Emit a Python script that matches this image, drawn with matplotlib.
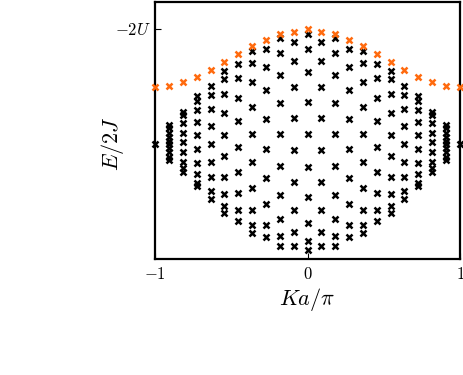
import matplotlib
matplotlib.use("Agg")
import matplotlib.pyplot as plt

plt.rcParams['mathtext.fontset'] = 'cm'
plt.rcParams['font.family'] = ['DejaVu Serif']

# total momentum Ka/pi for each column (n/11, n = -11..11)
k_values = [-1.0, -0.909, -0.818, -0.727, -0.636, -0.545, -0.455, -0.364, -0.273, -0.182, -0.091,
            0.0,
            0.091, 0.182, 0.273, 0.364, 0.455, 0.545, 0.636, 0.727, 0.818, 0.909, 1.0]

# bound state (orange), in units of |U|
bound_e = [0.98, 1.009, 1.073, 1.161, 1.283, 1.417, 1.562, 1.702, 1.812, 1.920, 1.949,
           1.993,
           1.949, 1.920, 1.812, 1.702, 1.562, 1.417, 1.283, 1.161, 1.073, 1.009, 0.98]

# scattering states (black) per |n|
e_n0 = [1.904, 1.644, 1.243, 0.730, 0.162, -0.414, -0.937, -1.380, -1.698, -1.859]
e_n1 = [1.777, 1.443, 0.986, 0.450, -0.120, -0.668, -1.154, -1.545, -1.782]
e_n2 = [1.836, 1.585, 1.195, 0.712, 0.166, -0.393, -0.899, -1.326, -1.623, -1.785]
e_n3 = [1.644, 1.340, 0.934, 0.436, -0.096, -0.607, -1.056, -1.417, -1.640]
e_n4 = [1.620, 1.410, 1.073, 0.637, 0.161, -0.323, -0.777, -1.161, -1.414, -1.567]
e_n5 = [1.387, 1.143, 0.794, 0.387, -0.061, -0.492, -0.869, -1.169, -1.353]
e_n6 = [1.274, 1.126, 0.860, 0.527, 0.157, -0.213, -0.590, -0.885, -1.091, -1.213]
e_n7 = [1.009, 0.846, 0.597, 0.314, -0.009, -0.318, -0.593, -0.829, -0.969]
e_n8 = [0.829, 0.742, 0.585, 0.380, 0.157, -0.101, -0.340, -0.541, -0.689, -0.750]
e_n9 = [0.555, 0.497, 0.363, 0.188, 0.031, -0.143, -0.318, -0.433, -0.492]
e_n10 = [0.323, 0.262, 0.192, 0.122, 0.052, -0.017, -0.087, -0.157, -0.227, -0.288]
e_n11 = [0.0]

scatter_columns = [e_n11, e_n10, e_n9, e_n8, e_n7, e_n6, e_n5, e_n4, e_n3, e_n2, e_n1,
                   e_n0,
                   e_n1, e_n2, e_n3, e_n4, e_n5, e_n6, e_n7, e_n8, e_n9, e_n10, e_n11]

x_ticks = [-1, 0, 1]
x_ticklabels = ['$-1$', '$0$', '$1$']
y_ticks = [2.0]
y_ticklabels = ['$-2U$']

fig = plt.figure(figsize=(4.63, 3.75), dpi=100)
ax = fig.add_axes([155/463, 116/375, 305/463, 257/375])

bx, by = [], []
for k, col in zip(k_values, scatter_columns):
    for e in col:
        bx.append(k)
        by.append(e)

ms = 4.0
mew = 1.8
ax.plot(bx, by, linestyle='none', marker='x', color='black', ms=ms, mew=mew, clip_on=False, zorder=3)
ax.plot(k_values, bound_e, linestyle='none', marker='x', color='#ff6a0e', ms=ms, mew=mew, clip_on=False, zorder=3)

ax.set_xlim(-1, 1)
ax.set_ylim(-2.016, 2.47)
ax.set_xticks(x_ticks)
ax.set_xticklabels(x_ticklabels)
ax.set_yticks(y_ticks)
ax.set_yticklabels(y_ticklabels)
ax.tick_params(axis='x', direction='in', length=4, width=0.8, labelsize=12, top=False, pad=5)
ax.tick_params(axis='y', direction='in', length=4, width=0.8, labelsize=12, right=False, pad=3)
for s in ax.spines.values():
    s.set_linewidth(1.6)

ax.set_xlabel('$Ka/\\pi$', fontsize=16)
ax.set_ylabel('$E/2J$', fontsize=16)
ax.xaxis.set_label_coords(0.5, -0.105)
ax.yaxis.set_label_coords(-0.095, 0.45)

fig.savefig('out.png', dpi=100)
